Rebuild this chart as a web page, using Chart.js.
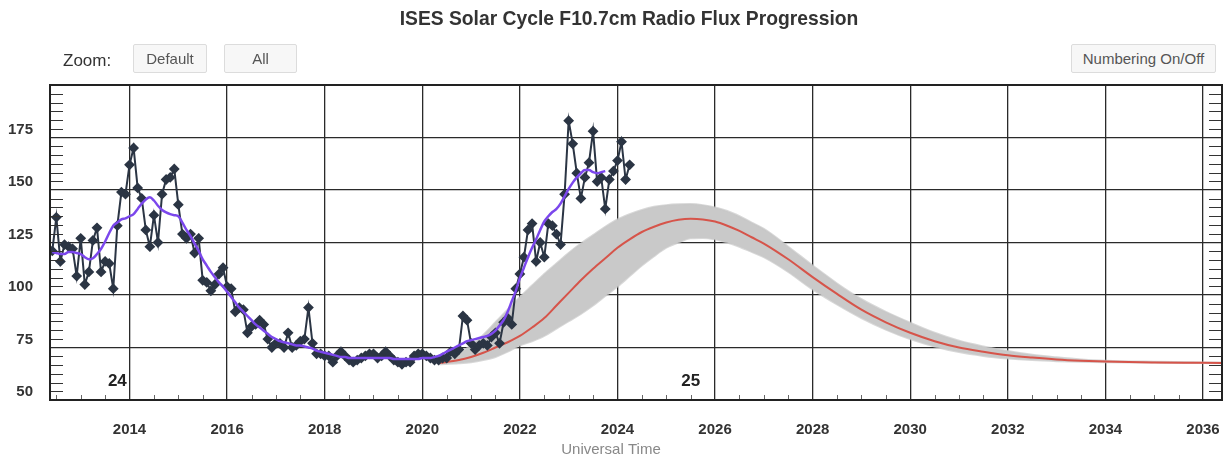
<!DOCTYPE html>
<html>
<head>
<meta charset="utf-8">
<script src="https://cdn.jsdelivr.net/npm/chart.js@4.4.1/dist/chart.umd.min.js"></script>
<style>
  html, body { margin: 0; padding: 0; background: #fff; }
  #wrap { position: relative; width: 1224px; height: 458px; font-family: "Liberation Sans", Arial, sans-serif; }
  #wrap canvas { position: absolute; left: 0; top: 0; }
  .zoomLbl { position: absolute; left: 63px; top: 51px; font-size: 17px; color: #333; }
  .btn { position: absolute; top: 44px; height: 29px; box-sizing: border-box; background: #f7f7f7;
         border: 1px solid #dcdcdc; border-radius: 2px; color: #555; font-size: 15px; line-height: 27px; text-align: center; }
</style>
</head>
<body>
<div id="wrap">
  <canvas id="myChart" width="1224" height="458"></canvas>
  <div class="zoomLbl">Zoom:</div>
  <div class="btn" style="left:133px;width:74px">Default</div>
  <div class="btn" style="left:224px;width:73px">All</div>
  <div class="btn" style="left:1071px;width:145px">Numbering On/Off</div>
</div>
<script>
// Data bulanan F10.7 yang teramati, mulai Juni 2012
const obsStartYear = 2012;
const obsStartMonth = 6;
const observed = [
  121, 137, 116, 124, 123, 122, 109,
  127, 105, 111, 126, 132, 111, 116, 115, 103, 133, 149, 148,
  162, 170, 151, 146, 131, 123, 138, 125, 148, 155, 156, 160,
  143, 129, 127, 129, 120, 127, 107, 106, 102, 105, 110, 113,
  104, 103, 92, 94, 93, 82, 85, 86, 88, 86, 79, 75,
  77, 77, 75, 82, 75, 76, 78, 79, 94, 77, 72, 72,
  71, 71, 68, 71, 73, 71, 69, 68, 69, 70, 71, 72,
  72, 70, 71, 73, 71, 69, 68, 67, 68, 68, 71, 72,
  72, 71, 70, 69, 69, 70, 70, 73, 72, 74, 90, 88,
  77, 74, 76, 77, 76, 80, 82, 77, 87, 89, 86, 103,
  110, 118, 131, 134, 116, 125, 118, 134, 133, 129, 124, 148,
  183, 172, 158, 146, 156, 163, 178, 154, 156, 141, 155, 159,
  164, 173, 155, 162
];

// Nilai rata-rata bergerak 13 bulan (garis ungu), juga mulai Juni 2012
const smoothed = [
  120.5, 120, 119.5, 119.5, 120.5, 120.5, 120,
  119.5, 118, 117, 117.5, 119.5, 122, 125.5, 129.5, 133, 134.5, 136, 136.5,
  137.5, 138.5, 141, 143.5, 145.5, 146.5, 145, 142.5, 140.5, 139.3, 138.5, 138,
  137.5, 134.5, 131, 128, 124.5, 121, 117, 114, 111, 108.5, 106, 104,
  101.5, 99, 96.5, 94, 92, 90, 88, 86, 84.5, 83, 81.5, 80,
  79, 78, 77.5, 77, 76.5, 76, 76, 75.5, 75, 74.5, 73.5, 73,
  72.5, 72, 71.5, 71, 70.5, 70.5, 70, 70, 70, 70, 70, 70,
  70, 70, 70, 70, 70, 69.5, 69.5, 69.5, 69.5, 69.5, 69.5, 69.5,
  70, 70, 70, 70.5, 71, 72, 73, 74, 75, 76, 77, 78,
  78.5, 79, 79.5, 80, 80.5, 81.5, 83, 85.5, 88, 92, 97, 102,
  108, 113, 118, 122.5, 126.5, 131, 135, 137.5, 139.5, 141, 143.5, 147,
  150.5, 153.5, 156, 158, 159.5, 159.5, 158.5, 158, 158.5, 159
];

// Prediksi siklus 25 (garis merah) dan rentangnya (pita abu-abu)
const predYears = [
  2020.33, 2020.75, 2021, 2021.25, 2021.5, 2021.75, 2022, 2022.25, 2022.5, 2022.75,
  2023, 2023.25, 2023.5, 2023.75, 2024, 2024.25, 2024.5, 2024.75, 2025, 2025.25,
  2025.5, 2025.75, 2026, 2026.25, 2026.5, 2026.75, 2027, 2027.5, 2028, 2028.5,
  2029, 2029.5, 2030, 2030.5, 2031, 2031.5, 2032, 2032.5, 2033, 2033.5,
  2034, 2035, 2036, 2036.4
];
const predicted = [
  67.5, 69, 70.5, 72.5, 75, 77.5, 80.5, 84.5, 89, 95,
  101, 107, 112.5, 117.5, 122.5, 126.5, 130, 132.5, 134.5, 135.8,
  136.3, 136, 135, 133, 130.5, 127.5, 124.5, 117, 108.5, 100.5,
  93, 87, 82, 78, 75, 73, 71.3, 70.2, 69.3, 68.7,
  68.3, 67.9, 67.7, 67.6
];
const bandHigh = [
  68, 72, 76, 81, 87, 93, 99, 104.5, 110, 115,
  120, 124.5, 128.5, 132.5, 136, 138.5, 140.5, 142, 142.8, 143.2,
  143.3, 142.8, 141.7, 140, 137.5, 134.5, 131.5, 123, 114, 105.5,
  98, 92, 86.8, 82, 78.2, 75.5, 73.3, 71.5, 70.3, 69.3,
  68.7, 68.2, 67.9, 67.8
];
const bandLow = [
  67, 67.5, 68, 69, 70.5, 73, 76, 78, 80.5, 84,
  87.5, 91, 95, 99.5, 104, 109, 114, 118.5, 122.5, 125,
  127, 127.2, 126.5, 125, 123, 120.5, 118, 111, 102.7, 95.5,
  89, 83.5, 79, 75.5, 72.8, 71, 69.8, 69, 68.5, 68.2,
  68, 67.8, 67.6, 67.5
];

const yearTicks = [2014, 2016, 2018, 2020, 2022, 2024, 2026, 2028, 2030, 2032, 2034, 2036];
const fluxTicks = [50, 75, 100, 125, 150, 175];
const cycleNumbers = ['24', '25'];
const cycleYears = [2013.75, 2025.5];

const monthX = i => obsStartYear + (obsStartMonth - 1 + i) / 12;
const toPoints = (xs, ys) => ys.map((v, i) => ({ x: xs[i], y: v }));
const fontFamily = '"Liberation Sans", Arial, sans-serif';

// Garis kerangka, tick kecil, label tahun, nomor siklus, judul
const extras = {
  id: 'extras',
  afterDatasetsDraw(chart) {
    const { ctx, chartArea: a, scales: { x, y } } = chart;
    ctx.save();
    ctx.strokeStyle = '#333';
    ctx.lineWidth = 1.2;
    ctx.beginPath();
    for (let k = 1; k < 36; k++) {
      if (k % 6 === 0) continue;
      const py = Math.round(y.getPixelForValue(50 + k * 25 / 6)) + 0.5;
      ctx.moveTo(a.left, py); ctx.lineTo(a.left + 13, py);
      ctx.moveTo(a.right, py); ctx.lineTo(a.right - 13, py);
    }
    ctx.stroke();
    ctx.strokeStyle = '#666';
    ctx.lineWidth = 1;
    ctx.beginPath();
    for (let t = 2012.5; t < x.max; t += 0.5) {
      if (t % 2 === 0) continue;
      const px = Math.round(x.getPixelForValue(t)) + 0.5;
      ctx.moveTo(px, a.bottom); ctx.lineTo(px, a.bottom - 5);
    }
    ctx.stroke();
    ctx.strokeStyle = '#222';
    ctx.lineWidth = 2;
    ctx.strokeRect(a.left, a.top, a.right - a.left, a.bottom - a.top);

    ctx.textAlign = 'center';
    ctx.textBaseline = 'middle';
    ctx.fillStyle = '#333';
    ctx.font = 'bold 15px ' + fontFamily;
    yearTicks.forEach(t => ctx.fillText(String(t), x.getPixelForValue(t), a.bottom + 30));

    ctx.fillStyle = '#222';
    ctx.font = 'bold 17px ' + fontFamily;
    cycleNumbers.forEach((n, i) => ctx.fillText(n, x.getPixelForValue(cycleYears[i]), a.bottom - 19));

    ctx.fillStyle = '#333';
    ctx.font = 'bold 19.3px ' + fontFamily;
    ctx.fillText('ISES Solar Cycle F10.7cm Radio Flux Progression', 629, 20);

    ctx.fillStyle = '#888';
    ctx.font = '15px ' + fontFamily;
    ctx.fillText('Universal Time', 611, 450);
    ctx.restore();
  }
};

const myChart = new Chart(document.getElementById('myChart').getContext('2d'), {
  type: 'line',
  data: {
    datasets: [
      {
        label: 'Smoothed',
        data: smoothed.map((v, i) => ({ x: monthX(i), y: v })),
        borderColor: '#7b47ec',
        borderWidth: 2.5,
        pointRadius: 0,
        cubicInterpolationMode: 'monotone',
        order: 0
      },
      {
        label: 'Observed',
        data: observed.map((v, i) => ({ x: monthX(i), y: v })),
        borderColor: '#2b3544',
        borderWidth: 2,
        pointStyle: 'rectRot',
        pointRadius: 4,
        pointBackgroundColor: '#2b3544',
        pointBorderColor: '#2b3544',
        tension: 0,
        order: 1
      },
      {
        label: 'Predicted',
        data: toPoints(predYears, predicted),
        borderColor: '#d6544a',
        borderWidth: 2,
        pointRadius: 0,
        cubicInterpolationMode: 'monotone',
        order: 2
      },
      {
        label: 'Range high',
        data: toPoints(predYears, bandHigh),
        borderColor: 'rgba(200,200,200,0.7)',
        backgroundColor: '#c9c9c9',
        borderWidth: 2,
        pointRadius: 0,
        fill: '+1',
        cubicInterpolationMode: 'monotone',
        order: 3
      },
      {
        label: 'Range low',
        data: toPoints(predYears, bandLow),
        borderColor: 'rgba(200,200,200,0.7)',
        borderWidth: 2,
        pointRadius: 0,
        fill: false,
        cubicInterpolationMode: 'monotone',
        order: 4
      }
    ]
  },
  options: {
    responsive: false,
    animation: false,
    layout: { autoPadding: false, padding: { left: 0, right: 2, top: 85, bottom: 0 } },
    plugins: {
      legend: { display: false },
      tooltip: { enabled: false },
      title: { display: false }
    },
    scales: {
      x: {
        type: 'linear',
        min: 2012.37,
        max: 2036.39,
        afterBuildTicks: s => { s.ticks = yearTicks.map(v => ({ value: v })); },
        afterFit: s => { s.height = 58; },
        grid: { color: '#2a2a2a', lineWidth: 1.3, drawTicks: false },
        border: { display: false },
        ticks: { display: false }
      },
      y: {
        min: 50,
        max: 200,
        afterBuildTicks: s => { s.ticks = fluxTicks.map(v => ({ value: v })); },
        afterFit: s => { s.width = 50; },
        grid: { color: '#2a2a2a', lineWidth: 1.3, drawTicks: false },
        border: { display: false },
        ticks: {
          padding: 17,
          labelOffset: -8,
          color: '#333',
          font: { size: 15, weight: 'bold', family: fontFamily },
          callback: v => String(v)
        }
      }
    }
  },
  plugins: [extras]
});
</script>
</body>
</html>
